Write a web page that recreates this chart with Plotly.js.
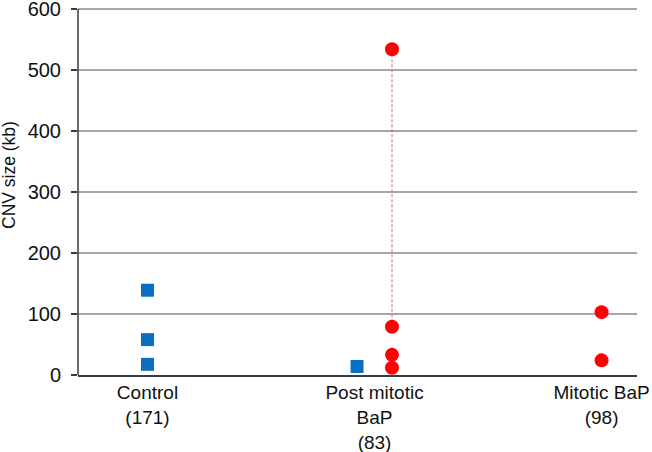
<!DOCTYPE html>
<html>
<head>
<meta charset="utf-8">
<script src="https://cdn.plot.ly/plotly-3.0.1.min.js"></script>
<style>html,body{margin:0;padding:0;background:#fff;}#chart{width:652px;height:452px;}</style>
</head>
<body>
<div id="chart"></div>
<script>
// Categories (x tick labels)
var categories = ["Control<br>(171)", "Post mitotic<br>BaP<br>(83)", "Mitotic BaP<br>(98)"];
// Blue squares series: category index and CNV size (kb)
var blueCategory = [0, 0, 0, 1];
var blueValues = [139, 58, 17.5, 14];
// Red circles series: category index and CNV size (kb)
var redCategory = [1, 1, 1, 1, 2, 2];
var redValues = [534, 79, 33, 12, 103, 24];
var yTicks = [0, 100, 200, 300, 400, 500, 600];

// side-by-side offset where both series share a category
var pairOffset = 0.077;
function shared(c) { return blueCategory.indexOf(c) >= 0 && redCategory.indexOf(c) >= 0; }
var blueX = blueCategory.map(function (c) { return shared(c) ? c - pairOffset : c; });
var redX = redCategory.map(function (c) { return shared(c) ? c + pairOffset : c; });

// dashed range line for the category with the largest spread (max to next value)
var postVals = redValues.filter(function (v, i) { return redCategory[i] === 1; }).sort(function (a, b) { return b - a; });
var lineX = [redX[redCategory.indexOf(1)], redX[redCategory.indexOf(1)]];
var lineY = [postVals[0], postVals[1]];

var traces = [
  { x: lineX, y: lineY, mode: "lines", type: "scatter",
    line: { color: "#f25a5a", width: 1, dash: "3px,2px" }, hoverinfo: "skip", showlegend: false },
  { x: blueX, y: blueValues, mode: "markers", type: "scatter",
    marker: { symbol: "square", size: 13, color: "#0a6fc2" }, showlegend: false },
  { x: redX, y: redValues, mode: "markers", type: "scatter",
    marker: { symbol: "circle", size: 14, color: "#ff0000" }, showlegend: false }
];

var yMax = yTicks[yTicks.length - 1];

var layout = {
  width: 652, height: 452,
  margin: { l: 78, r: 15, t: 2, b: 77 },
  paper_bgcolor: "#ffffff", plot_bgcolor: "#ffffff",
  font: { family: "Liberation Sans, Arial, Helvetica, sans-serif", color: "#111111" },
  showlegend: false,
  xaxis: {
    range: [-0.306, 2.156],
    tickmode: "array",
    tickvals: categories.map(function (c, i) { return i; }),
    ticktext: categories,
    ticks: "", showgrid: false, zeroline: false,
    showline: true, linecolor: "#3a3a3a", linewidth: 1.5,
    tickfont: { size: 19, color: "#111111" },
    ticklabelstandoff: 0
  },
  yaxis: {
    range: [0, 611.5],
    tickmode: "array", tickvals: yTicks, ticktext: yTicks.map(String),
    ticks: "outside", ticklen: 6, tickwidth: 1.5, tickcolor: "#3a3a3a",
    showgrid: true, gridcolor: "#a6a6a6", gridwidth: 1.2,
    zeroline: false, showline: false,
    tickfont: { size: 20, color: "#111111" },
    ticklabelstandoff: 6, ticklabeloverflow: "allow"
  },
  shapes: [{
    type: "line", xref: "paper", yref: "y", x0: 0, x1: 0, y0: 0, y1: yMax,
    line: { color: "#3a3a3a", width: 1.5 }, layer: "above"
  }],
  annotations: [{
    text: "CNV size (kb)", xref: "paper", yref: "paper",
    x: -(78 - 9) / 559, y: (375 - 175) / 373, xanchor: "center", yanchor: "middle",
    textangle: -90, showarrow: false, font: { size: 17.5, color: "#111111" }
  }]
};

Plotly.newPlot("chart", traces, layout, { displayModeBar: false, staticPlot: true });
</script>
</body>
</html>
